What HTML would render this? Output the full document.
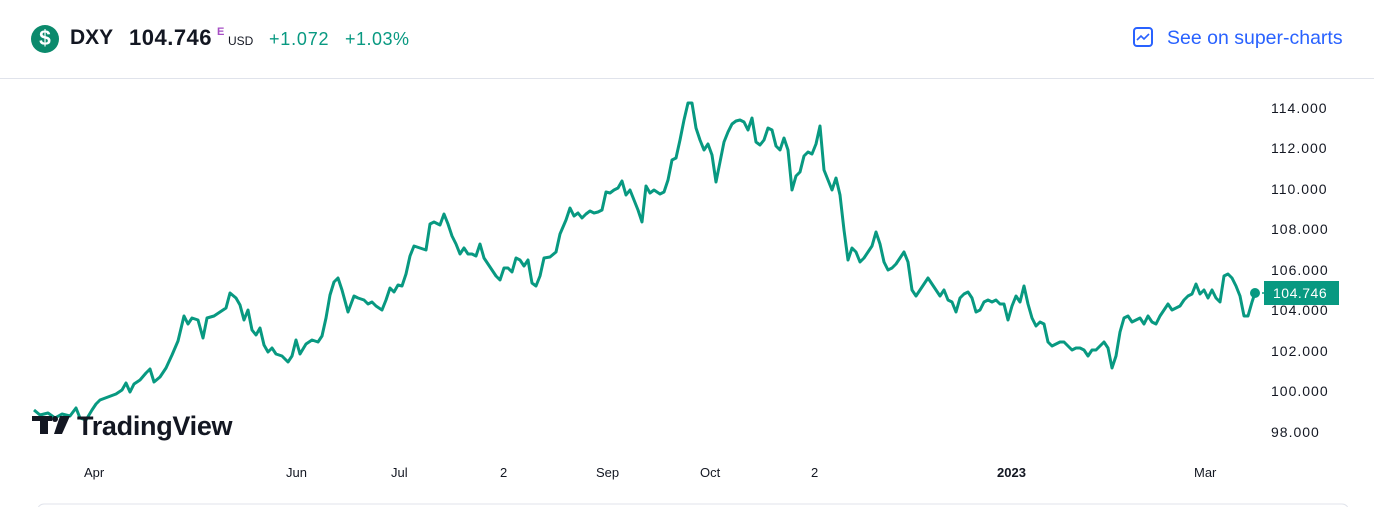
<!DOCTYPE html><html><head><style>
body{margin:0;width:1374px;height:507px;overflow:hidden;background:#fff;font-family:"Liberation Sans",sans-serif;position:relative}
.a{position:absolute;white-space:nowrap}
</style></head><body>
<div class="a" style="left:31px;top:25px;width:28px;height:28px;border-radius:50%;background:#0b8a6c;color:#fff;font-weight:bold;font-size:21px;text-align:center;line-height:28px">$</div>
<div class="a" style="left:70px;top:26px;font-size:21px;font-weight:bold;color:#131722">DXY</div>
<div class="a" style="left:129px;top:25px;font-size:22px;font-weight:bold;color:#131722;letter-spacing:0.5px">104.746</div>
<div class="a" style="left:217px;top:26px;font-size:11px;font-weight:bold;color:#a64ec4">E</div>
<div class="a" style="left:228px;top:34px;font-size:12px;color:#131722">USD</div>
<div class="a" style="left:269px;top:29px;font-size:18px;color:#089981;letter-spacing:0.8px">+1.072</div>
<div class="a" style="left:345px;top:29px;font-size:18px;color:#089981;letter-spacing:0.5px">+1.03%</div>
<div class="a" style="left:1133px;top:27px;width:20px;height:20px;border:2px solid #2962ff;border-radius:4px;box-sizing:border-box"></div>
<svg class="a" style="left:1133px;top:27px" width="20" height="20"><polyline points="4,13 8,9 11,12 16,7" fill="none" stroke="#2962ff" stroke-width="1.6"/></svg>
<div class="a" style="left:1167px;top:27px;font-size:19.5px;color:#2962ff">See on super-charts</div>
<div class="a" style="left:0;top:78px;width:1374px;height:1px;background:#e0e3eb"></div>
<svg class="a" style="left:0;top:0" width="1374" height="507">
<g font-size="14" fill="#131722" font-family="Liberation Sans" letter-spacing="1">
<text x="1271" y="113">114.000</text><text x="1271" y="153">112.000</text><text x="1271" y="194">110.000</text><text x="1271" y="234">108.000</text><text x="1271" y="275">106.000</text><text x="1271" y="315">104.000</text><text x="1271" y="356">102.000</text><text x="1271" y="396">100.000</text><text x="1271" y="437">98.000</text>
</g>
<g font-size="13" fill="#131722" font-family="Liberation Sans">
<text x="84" y="477">Apr</text><text x="286" y="477">Jun</text><text x="391" y="477">Jul</text><text x="500" y="477">2</text><text x="596" y="477">Sep</text><text x="700" y="477">Oct</text><text x="811" y="477">2</text><text x="997" y="477" font-weight="bold">2023</text><text x="1194" y="477">Mar</text>
</g>
<polyline fill="none" stroke="#089981" stroke-width="3" stroke-linejoin="round" points="34,410 40,415 48,413 55,418 62,414 70,416 76,408 80,418 86,420 92,410 96,404 100,400 108,397 116,394 122,390 126,383 130,392 134,384 140,380 146,373 150,369 154,382 160,377 166,368 172,355 178,341 184,316 188,324 192,318 198,320 203,338 207,318 214,316 220,312 226,308 230,293 236,298 240,305 244,320 248,310 252,330 256,335 260,328 264,345 268,352 272,348 276,354 282,356 288,362 292,356 296,340 300,354 306,344 312,340 318,342 322,336 326,318 330,295 334,282 338,278 342,290 348,312 354,296 358,298 364,300 368,304 372,302 376,306 382,310 386,300 390,288 394,292 398,285 402,286 406,274 410,256 414,246 420,248 426,250 430,224 434,222 440,225 444,214 448,224 452,236 456,244 460,254 464,248 468,254 472,254 476,256 480,244 484,258 488,264 492,270 496,276 500,280 504,268 508,268 512,272 516,258 520,260 524,266 528,260 532,283 536,286 540,276 544,258 550,257 556,252 560,234 566,220 570,208 574,216 578,213 582,218 586,214 590,211 594,213 598,212 602,210 606,192 610,193 614,190 618,188 622,181 626,195 630,190 634,200 638,210 642,222 646,186 650,193 654,190 660,194 664,192 668,180 672,160 676,158 680,140 684,120 688,103 692,103 696,128 700,140 704,150 708,144 712,155 716,182 720,162 724,142 728,132 732,124 736,121 740,120 744,122 748,130 752,118 756,142 760,145 764,140 768,128 772,130 776,146 780,150 784,138 788,150 792,190 796,176 800,172 804,156 808,152 812,154 816,144 820,126 824,170 828,180 832,190 836,178 840,195 844,230 848,260 852,248 856,252 860,262 864,258 868,252 872,246 876,232 880,244 884,262 888,270 892,268 896,264 900,258 904,252 908,262 912,290 916,296 920,290 924,284 928,278 932,284 936,290 940,296 944,290 948,300 952,302 956,312 960,298 964,294 968,292 972,298 976,312 980,310 984,302 988,300 992,302 996,300 1000,304 1004,304 1008,320 1012,306 1016,296 1020,302 1024,286 1028,304 1032,318 1036,326 1040,322 1044,324 1048,342 1052,346 1056,344 1060,342 1064,342 1068,346 1072,350 1076,348 1080,348 1084,350 1088,356 1092,350 1096,350 1100,346 1104,342 1108,348 1112,368 1116,356 1120,332 1124,318 1128,316 1132,322 1136,320 1140,318 1144,324 1148,316 1152,322 1156,324 1160,316 1164,310 1168,304 1172,310 1176,308 1180,306 1184,300 1188,296 1192,294 1196,284 1200,294 1204,290 1208,298 1212,290 1216,298 1220,302 1224,276 1228,274 1232,278 1236,286 1240,296 1244,316 1248,316 1252,302 1255,293"/>
<circle cx="1255" cy="293" r="5" fill="#089981"/>
<line x1="1262" y1="293" x2="1266" y2="293" stroke="#089981" stroke-width="1.5"/>
<rect x="1264" y="281" width="75" height="24" fill="#089981"/>
<text x="1273" y="298" font-size="14" fill="#fff" font-family="Liberation Sans" letter-spacing="0.5">104.746</text>
<rect x="32" y="416" width="20" height="5" fill="#131722"/><rect x="40" y="416" width="8" height="18" fill="#131722"/><circle cx="55" cy="419" r="3" fill="#131722"/><polygon points="60,416 70,416 62,434 54,434" fill="#131722"/>
<text x="77" y="435" font-size="27" font-weight="bold" fill="#131722" font-family="Liberation Sans" letter-spacing="-0.3">TradingView</text>
<rect x="38" y="504" width="1310" height="10" rx="6" fill="none" stroke="#e0e3eb"/>
</svg>
</body></html>
